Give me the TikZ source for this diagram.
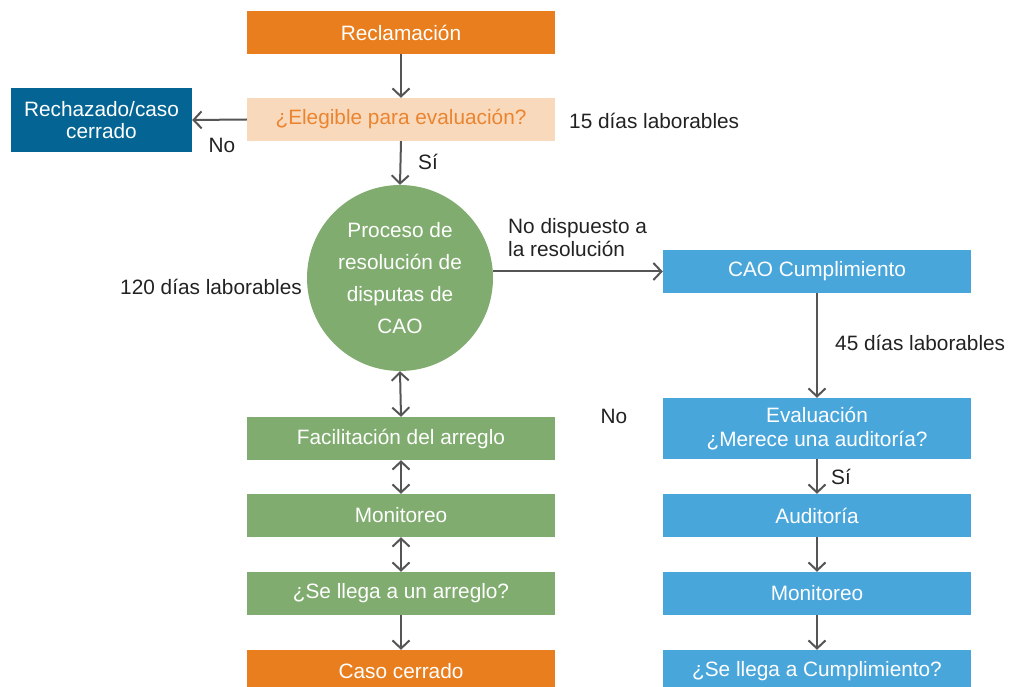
\documentclass[tikz,border=0pt]{standalone}
\usepackage{fontspec}
\setmainfont{Liberation Sans}
\usetikzlibrary{arrows.meta}
\definecolor{corange}{HTML}{E97E1E}
\definecolor{cpeach}{HTML}{F9D9BB}
\definecolor{ctorange}{HTML}{EA8430}
\definecolor{cdblue}{HTML}{046594}
\definecolor{cgreen}{HTML}{80AC6F}
\definecolor{clblue}{HTML}{49A6DB}
\definecolor{carrow}{HTML}{555555}
\definecolor{ctext}{HTML}{222222}
\newcommand\fsz{\fontsize{20.8}{24}\selectfont}
\begin{document}
\begin{tikzpicture}[x=1pt,y=-1pt,
  box/.style={rectangle, minimum width=308pt, minimum height=43pt, inner sep=0pt, text=white, font=\fsz, align=center},
  lbl/.style={inner sep=0pt, text=ctext, font=\fsz, align=left},
  arr/.style={draw=carrow, line width=2pt, -{Straight Barb[length=8pt,width=17pt,line width=2pt]}},
  darr/.style={draw=carrow, line width=2pt, {Straight Barb[length=8pt,width=17pt,line width=2pt]}-{Straight Barb[length=8pt,width=17pt,line width=2pt]}}]
\useasboundingbox (0,0) rectangle (1010,687);
% left column
\node[box, fill=corange] (rec) at (401,32.5) {Reclamación};
\node[box, fill=cpeach, text=ctorange] (eleg) at (401,119.5) {¿Elegible para evaluación?};
\node[box, fill=cdblue, minimum width=181pt, minimum height=64pt, font=\fontsize{20.8}{22}\selectfont] (rech) at (101.5,120) {Rechazado/caso\\cerrado};
\node[circle, fill=cgreen, minimum size=186pt, inner sep=0pt, text=white, align=center, font=\fontsize{20.8}{32}\selectfont] (circ) at (400,278) {Proceso de\\resolución de\\disputas de\\CAO};
\node[box, fill=cgreen] (fac) at (401,438.5) {Facilitación del arreglo};
\node[box, fill=cgreen] (mon1) at (401,515.5) {Monitoreo};
\node[box, fill=cgreen] (arg) at (401,593.5) {¿Se llega a un arreglo?};
\node[box, fill=corange] (caso) at (401,671.5) {Caso cerrado};
% right column
\node[box, fill=clblue] (cao) at (817,271.5) {CAO Cumplimiento};
\node[box, fill=clblue, minimum height=61pt] (eval) at (817,428.5) {Evaluación\\¿Merece una auditoría?};
\node[box, fill=clblue] (aud) at (817,515.5) {Auditoría};
\node[box, fill=clblue] (mon2) at (817,593.5) {Monitoreo};
\node[box, fill=clblue] (cump) at (817,671.5) {¿Se llega a Cumplimiento?};
% labels
\node[lbl] (no1) at (222,145) {No};
\node[lbl] (si1) at (428,162) {Sí};
\node[lbl, anchor=west] (d15) at (569,121) {15 días laborables};
\node[lbl, anchor=east] (d120) at (302,287) {120 días laborables};
\node[lbl, anchor=west, font=\fontsize{20.8}{23}\selectfont] (nodis) at (508,237.5) {No dispuesto a\\la resolución};
\node[lbl, anchor=west] (d45) at (835,343) {45 días laborables};
\node[lbl] (no2) at (614,416) {No};
\node[lbl] (si2) at (841,477) {Sí};
% connectors
\draw[arr] (rec.south) -- (eleg.north);
\draw[arr] (eleg.west) -- (rech.east);
\draw[arr] (eleg.south) -- (circ.north);
\draw[arr] (circ.east |- cao.west) -- (cao.west);
\draw[arr] (cao.south) -- (eval.north);
\draw[arr] (eval.south) -- (aud.north);
\draw[arr] (aud.south) -- (mon2.north);
\draw[arr] (mon2.south) -- (cump.north);
\draw[darr] (circ.south) -- (fac.north);
\draw[darr] (fac.south) -- (mon1.north);
\draw[darr] (mon1.south) -- (arg.north);
\draw[arr] (arg.south) -- (caso.north);
\end{tikzpicture}
\end{document}
